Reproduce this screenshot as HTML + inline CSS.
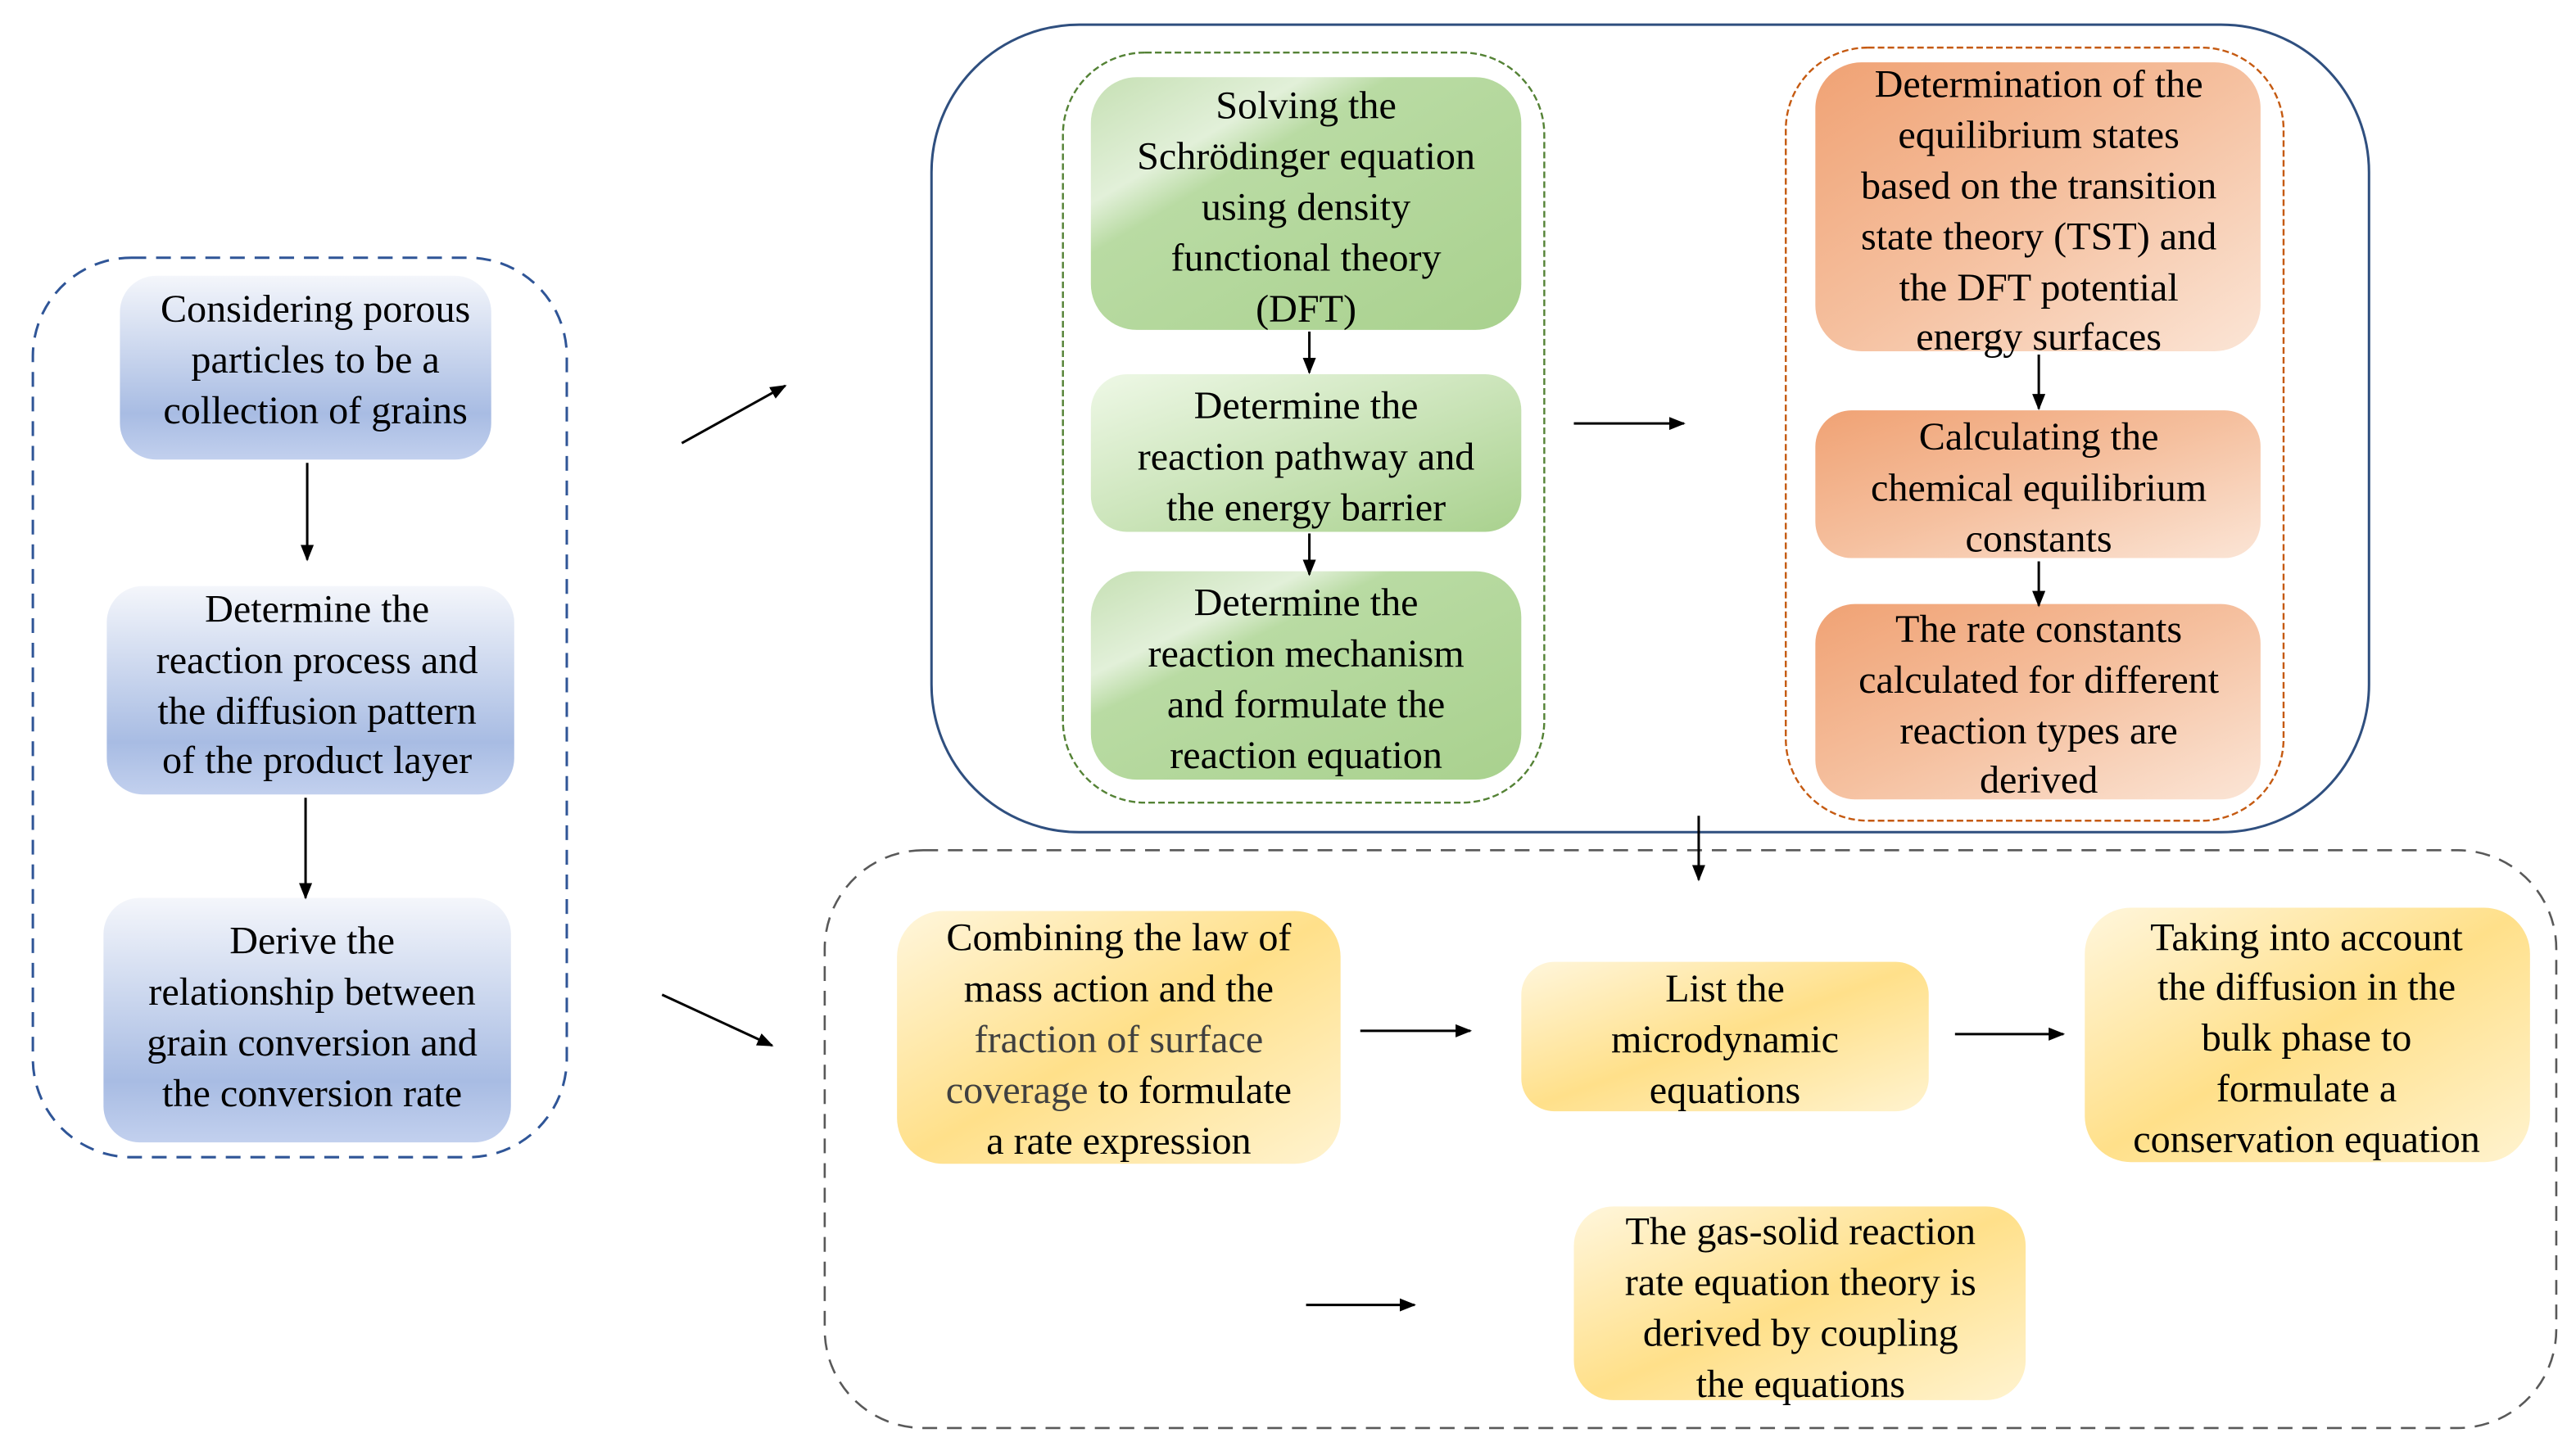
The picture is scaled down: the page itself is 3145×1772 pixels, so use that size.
<!DOCTYPE html>
<html><head><meta charset="utf-8"><style>html,body{margin:0;padding:0;background:#fff}svg{display:block}svg text{font-family:'Liberation Serif','Times New Roman',Times,Tinos,'DejaVu Serif',serif;font-size:24px}</style></head><body>
<svg width="3145" height="1772" viewBox="0 0 1568 884" xmlns="http://www.w3.org/2000/svg" preserveAspectRatio="none" text-anchor="middle" font-family="'Liberation Serif', serif">
<defs>
<linearGradient id="bl" x1="0" y1="0" x2="0" y2="1"><stop offset="0" stop-color="#f4f6fb"/><stop offset="0.75" stop-color="#a8bce3"/><stop offset="1" stop-color="#c2d0ee"/></linearGradient>
<linearGradient id="gr" x1="0" y1="0" x2="1" y2="1"><stop offset="0" stop-color="#c6e0b4"/><stop offset="0.25" stop-color="#e2f0d9"/><stop offset="0.35" stop-color="#b9dba3"/><stop offset="1" stop-color="#a9d18e"/></linearGradient>
<linearGradient id="gr2" x1="0" y1="0" x2="1" y2="1"><stop offset="0" stop-color="#eef8e6"/><stop offset="1" stop-color="#a9d18e"/></linearGradient>
<linearGradient id="or" x1="0" y1="0" x2="1" y2="1"><stop offset="0" stop-color="#f0a274"/><stop offset="0.5" stop-color="#f5c09f"/><stop offset="1" stop-color="#fbe5d6"/></linearGradient>
<linearGradient id="ye" x1="0" y1="0" x2="1" y2="1"><stop offset="0" stop-color="#fff6dc"/><stop offset="0.5" stop-color="#ffe08a"/><stop offset="1" stop-color="#fff3cf"/></linearGradient>
<marker id="ah" markerWidth="10" markerHeight="8" refX="9" refY="4" orient="auto" markerUnits="userSpaceOnUse"><path d="M0,0 L10,4 L0,8 Z" fill="#000"/></marker>
</defs>
<g fill="none">
<rect x="20" y="157" width="325" height="548" rx="60" stroke="#2f5597" stroke-width="1.5" stroke-dasharray="9,6"/>
<rect x="567" y="15" width="875" height="492" rx="90" stroke="#2f4f7f" stroke-width="1.5"/>
<rect x="647" y="32" width="293" height="457" rx="50" stroke="#548235" stroke-width="1.2" stroke-dasharray="4,2"/>
<rect x="1087" y="29" width="303" height="471" rx="50" stroke="#c55a11" stroke-width="1.2" stroke-dasharray="4,2"/>
<rect x="502" y="518" width="1054" height="352" rx="60" stroke="#595959" stroke-width="1.3" stroke-dasharray="9,6"/>
</g>
<rect x="73" y="168" width="226" height="112" rx="22" fill="url(#bl)"/>
<rect x="65" y="357" width="248" height="127" rx="22" fill="url(#bl)"/>
<rect x="63" y="547" width="248" height="149" rx="22" fill="url(#bl)"/>
<rect x="664" y="47" width="262" height="154" rx="28" fill="url(#gr)"/>
<rect x="664" y="228" width="262" height="96" rx="22" fill="url(#gr2)"/>
<rect x="664" y="348" width="262" height="127" rx="28" fill="url(#gr)"/>
<rect x="1105" y="38" width="271" height="176" rx="28" fill="url(#or)"/>
<rect x="1105" y="250" width="271" height="90" rx="22" fill="url(#or)"/>
<rect x="1105" y="368" width="271" height="119" rx="24" fill="url(#or)"/>
<rect x="546" y="555" width="270" height="154" rx="28" fill="url(#ye)"/>
<rect x="926" y="586" width="248" height="91" rx="20" fill="url(#ye)"/>
<rect x="1269" y="553" width="271" height="155" rx="28" fill="url(#ye)"/>
<rect x="958" y="735" width="275" height="118" rx="24" fill="url(#ye)"/>
<g stroke="#000" stroke-width="1.5" marker-end="url(#ah)">
<line x1="187" y1="282" x2="187" y2="341"/>
<line x1="186" y1="486" x2="186" y2="547"/>
<line x1="415" y1="270" x2="478" y2="235"/>
<line x1="403" y1="606" x2="470" y2="637"/>
<line x1="797" y1="202" x2="797" y2="227"/>
<line x1="797" y1="325" x2="797" y2="350"/>
<line x1="958" y1="258" x2="1025" y2="258"/>
<line x1="1241" y1="216" x2="1241" y2="249"/>
<line x1="1241" y1="342" x2="1241" y2="369"/>
<line x1="1034" y1="497" x2="1034" y2="536"/>
<line x1="828" y1="628" x2="895" y2="628"/>
<line x1="1190" y1="630" x2="1256" y2="630"/>
<line x1="795" y1="795" x2="861" y2="795"/>
</g>
<g fill="#000">
<text x="192" y="196">Considering porous</text><text x="192" y="227">particles to be a</text><text x="192" y="258">collection of grains</text>
<text x="193" y="379">Determine the</text><text x="193" y="410">reaction process and</text><text x="193" y="441">the diffusion pattern</text><text x="193" y="471">of the product layer</text>
<text x="190" y="581">Derive the</text><text x="190" y="612">relationship between</text><text x="190" y="643">grain conversion and</text><text x="190" y="674">the conversion rate</text>
<text x="795" y="72">Solving the</text><text x="795" y="103">Schrödinger equation</text><text x="795" y="134">using density</text><text x="795" y="165">functional theory</text><text x="795" y="196">(DFT)</text>
<text x="795" y="255">Determine the</text><text x="795" y="286">reaction pathway and</text><text x="795" y="317">the energy barrier</text>
<text x="795" y="375">Determine the</text><text x="795" y="406">reaction mechanism</text><text x="795" y="437">and formulate the</text><text x="795" y="468">reaction equation</text>
<text x="1241" y="59">Determination of the</text><text x="1241" y="90">equilibrium states</text><text x="1241" y="121">based on the transition</text><text x="1241" y="152">state theory (TST) and</text><text x="1241" y="183">the DFT potential</text><text x="1241" y="213">energy surfaces</text>
<text x="1241" y="274">Calculating the</text><text x="1241" y="305">chemical equilibrium</text><text x="1241" y="336">constants</text>
<text x="1241" y="391">The rate constants</text><text x="1241" y="422">calculated for different</text><text x="1241" y="453">reaction types are</text><text x="1241" y="483">derived</text>
<text x="681" y="579">Combining the law of</text><text x="681" y="610">mass action and the</text><text x="681" y="641" fill="#404040">fraction of surface</text><text x="681" y="672"><tspan fill="#404040">coverage</tspan> to formulate</text><text x="681" y="703">a rate expression</text>
<text x="1050" y="610">List the</text><text x="1050" y="641">microdynamic</text><text x="1050" y="672">equations</text>
<text x="1404" y="579">Taking into account</text><text x="1404" y="609">the diffusion in the</text><text x="1404" y="640">bulk phase to</text><text x="1404" y="671">formulate a</text><text x="1404" y="702">conservation equation</text>
<text x="1096" y="758">The gas-solid reaction</text><text x="1096" y="789">rate equation theory is</text><text x="1096" y="820">derived by coupling</text><text x="1096" y="851">the equations</text>
</g>
</svg>
</body></html>
